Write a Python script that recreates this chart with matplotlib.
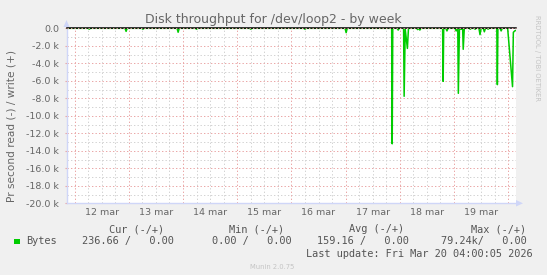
"""
Munin style weekly disk throughput graph for /dev/loop2.
"""

import numpy as np
import matplotlib
matplotlib.use("Agg")
import matplotlib.pyplot as plt
from matplotlib.patches import Polygon, Rectangle

# ----------------------------------------------------------------------------
# Data (time in days since 12 mar 00:00, read in bytes/s, plotted negative)
# ----------------------------------------------------------------------------
read_days = [
    -0.146, 0.25, 0.27, 0.29, 0.93, 0.95, 0.97, 1.24, 1.26, 1.28,
    1.89, 1.91, 1.93, 2.23, 2.25, 2.27, 3.23, 3.25, 3.27, 4.23,
    4.25, 4.27, 4.99, 5.01, 5.03, 5.85, 5.86, 5.87, 5.95, 5.97,
    5.99, 6.07, 6.08, 6.10, 6.14, 6.16, 6.31, 6.33, 6.35, 6.37,
    6.39, 6.79, 6.80, 6.81, 6.85, 6.87, 6.89, 7.02, 7.04, 7.06,
    7.07, 7.08, 7.10, 7.16, 7.17, 7.19, 7.28, 7.30, 7.32, 7.37,
    7.39, 7.41, 7.46, 7.48, 7.50, 7.54, 7.56, 7.58, 7.61, 7.63,
    7.65, 7.79, 7.80, 7.81, 7.85, 7.87, 7.89, 7.99, 8.08, 8.095,
    8.12, 8.144,
]
read_bytes = [
    0, 0, 100, 0, 0, 350, 0, 0, 100, 0,
    0, 450, 0, 0, 100, 0, 0, 100, 0, 0,
    100, 0, 0, 500, 0, 0, 13200, 0, 0, 200,
    0, 0, 7770, 100, 2300, 0, 0, 150, 0, 200,
    0, 0, 6060, 0, 0, 300, 0, 0, 300, 100,
    100, 7430, 100, 100, 2400, 0, 0, 100, 0, 0,
    100, 0, 0, 730, 0, 0, 400, 0, 0, 100,
    0, 0, 6440, 0, 0, 300, 0, 0, 6670, 460,
    300, 237,
]

day_labels = ['12 mar', '13 mar', '14 mar', '15 mar',
              '16 mar', '17 mar', '18 mar', '19 mar']
y_ticks = [0, -2000, -4000, -6000, -8000, -10000, -12000, -14000,
           -16000, -18000, -20000]

title = "Disk throughput for /dev/loop2 - by week"
ylabel = "Pr second read (-) / write (+)"

legend_head = ["Cur (-/+)", "Min (-/+)", "Avg (-/+)", "Max (-/+)"]
legend_vals = ["236.66 /   0.00", "0.00 /   0.00", "159.16 /   0.00", "79.24k/   0.00"]
last_update = "Last update: Fri Mar 20 04:00:05 2026"

# ----------------------------------------------------------------------------
# Style
# ----------------------------------------------------------------------------
W, H = 547, 275
BACK = '#f0f0f0'
FONT = '#666666'
AXIS = '#cfd6f8'
GREEN = '#00cc00'
MGRID = '#eaa5a5'
GRID = '#d2d2d2'


def px(x, y):
    # pixel coords (origin top-left) -> figure fraction
    return x / W, 1 - y / H


fig = plt.figure(figsize=(W / 100, H / 100), dpi=100, facecolor=BACK)
ax_l, ax_r, ax_t, ax_b = 66.7, 516.0, 28.3, 203.3
ax = fig.add_axes([ax_l / W, 1 - ax_b / H, (ax_r - ax_l) / W, (ax_b - ax_t) / H])
ax.set_facecolor('white')

x0, x1 = -0.146, 8.144
ax.set_xlim(x0, x1)
ax.set_ylim(-20000, 0)

# grid: minor every 6 h / 1k, major every day / 2k
for q in np.arange(0, x1, 0.25):
    if abs(q - round(q)) < 1e-6:
        continue
    ax.axvline(q, color=GRID, lw=0.7, ls=(0, (1.4, 2.2)), zorder=1)
for d in range(0, 9):
    ax.axvline(d, color=MGRID, lw=0.7, ls=(0, (1.4, 2.2)), zorder=1.5)
for v in range(-19000, 0, 2000):
    ax.axhline(v, color=GRID, lw=0.7, ls=(0, (1.4, 2.2)), zorder=1)
for v in y_ticks[1:]:
    ax.axhline(v, color=MGRID, lw=0.7, ls=(0, (1.4, 2.2)), zorder=1.5)

# data
ax.plot(read_days, -np.array(read_bytes), color=GREEN, lw=1.1, zorder=3)
ax.axhline(0, color='black', lw=1.1, zorder=4, clip_on=False)
ax.axhline(0, color=MGRID, lw=0.7, ls=(0, (1.4, 2.2)), zorder=5, clip_on=False)

# axes
for s in ('top', 'right'):
    ax.spines[s].set_visible(False)
for s in ('left', 'bottom'):
    ax.spines[s].set_color(AXIS)
    ax.spines[s].set_linewidth(1.0)

ax.set_xticks(np.arange(len(day_labels)) + 0.5, day_labels)
ax.tick_params(axis='x', length=0, pad=3.6, labelsize=6.8, labelcolor=FONT)
ax.set_yticks(y_ticks, ['0.0'] + [f'{v / 1000:.1f} k' for v in y_ticks[1:]])
ax.tick_params(axis='y', length=1.5, color=MGRID, pad=4.0, labelsize=6.8, labelcolor=FONT)

# axis arrows
fig.add_artist(Polygon([px(63.5, 27), px(69.5, 27), px(66.5, 20)],
                       closed=True, facecolor=AXIS, edgecolor='none',
                       transform=fig.transFigure))
fig.add_artist(Polygon([px(516, 200), px(516, 206.5), px(523, 203.3)],
                       closed=True, facecolor=AXIS, edgecolor='none',
                       transform=fig.transFigure))

# texts
fig.text(*px(273, 19.5), title, ha='center', va='center', fontsize=9.0, color=FONT)
fig.text(*px(11.5, 126), ylabel, ha='center', va='center', rotation=90,
         fontsize=7.6, color=FONT)
fig.text(*px(537, 15), "RRDTOOL / TOBI OETIKER", ha='center', va='top',
         rotation=270, fontsize=4.9, color='#c4c4c4')

mono = 'DejaVu Sans Mono'
LEG = '#555555'
head_right = [164, 284.3, 404.6, 526]
val_right = [173.4, 291.2, 408.8, 526.7]
for txt, xr in zip(legend_head, head_right):
    fig.text(*px(xr, 229.2), txt, ha='right', va='center', family=mono,
             fontsize=7.4, color=LEG)
for txt, xr in zip(legend_vals, val_right):
    fig.text(*px(xr, 241.4), txt, ha='right', va='center', family=mono,
             fontsize=7.4, color=LEG)
fig.add_artist(Rectangle(px(14, 244), 5.5 / W, 5.5 / H, facecolor=GREEN,
                         edgecolor='none', transform=fig.transFigure))
fig.text(*px(26, 241.4), "Bytes", ha='left', va='center', family=mono,
         fontsize=7.4, color=LEG)
fig.text(*px(532.6, 254.3), last_update, ha='right', va='center', family=mono,
         fontsize=7.4, color=LEG)
fig.text(*px(272.5, 267.2), "Munin 2.0.75", ha='center', va='center',
         fontsize=4.9, color='#c4c4c4')

fig.savefig("out.png", dpi=100, facecolor=BACK)
